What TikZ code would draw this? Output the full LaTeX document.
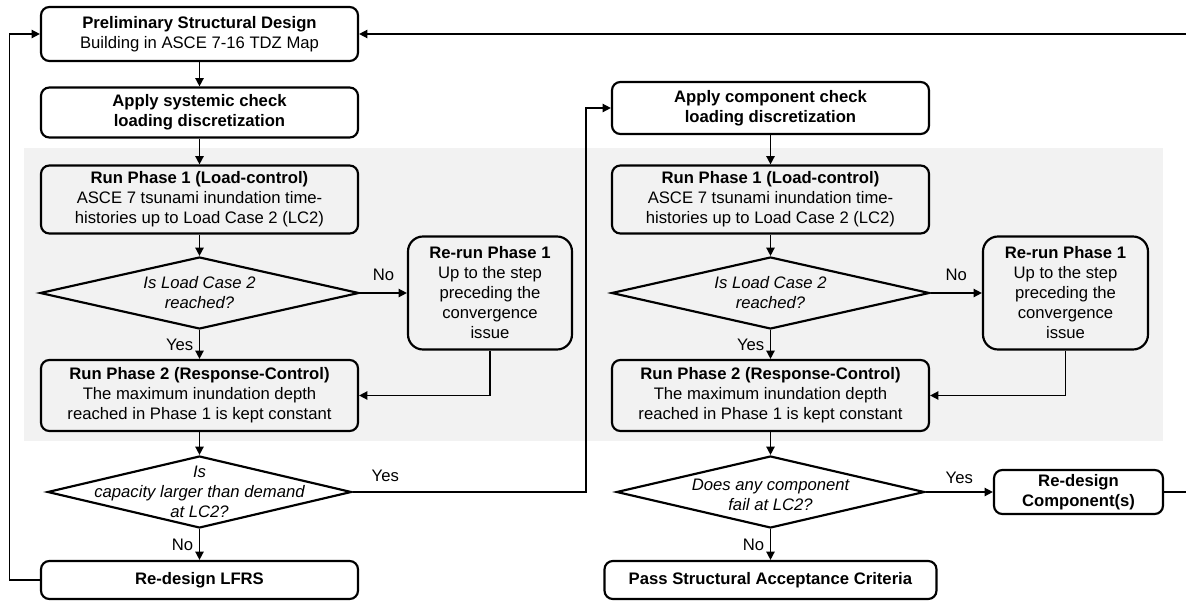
\documentclass[tikz,border=0pt]{standalone}
\usepackage{fontspec}
\setmainfont{Liberation Sans}
\usetikzlibrary{positioning,shapes.geometric,arrows.meta}
\definecolor{phasegray}{HTML}{F2F2F2}

\begin{document}
\begin{tikzpicture}[x=0.6pt, y=-0.6pt, >={Triangle[length=5pt,width=5pt]}, on grid,
	every node/.style={font=\fontsize{10}{12}\selectfont},
	stepbox/.style={draw, line width=1.3pt, rounded corners=5pt, align=center, minimum width=190.2pt, inner sep=1pt},
	check/.style={draw, diamond, line width=1.3pt, minimum height=43.2pt, inner sep=0pt},
	question/.style={align=center, font=\fontsize{10}{12}\selectfont\itshape},
	flow/.style={->, line width=0.9pt}]
	\useasboundingbox (0,0) rectangle (1186,600);
	\fill[phasegray] (24,148) rectangle (1163,441);
	
	% systemic check
	\node[stepbox, minimum height=32.4pt] (pre) at (199.5,34) {\textbf{Preliminary Structural Design}\\Building in ASCE 7-16 TDZ Map};
	\node[stepbox, minimum height=30pt] (sys) [below=47.1pt of pre] {\textbf{Apply systemic check}\\\textbf{loading discretization}};
	\node[stepbox, minimum height=40.8pt] (ph1) [below=52.2pt of sys] {\textbf{Run Phase 1 (Load-control)}\\ASCE 7 tsunami inundation time-\\histories up to Load Case 2 (LC2)};
	\node[check, minimum width=191.4pt, label={[question]center:{Is Load Case 2\\reached?}}] (d1) [below=56.1pt of ph1] {};
	\node[stepbox, rounded corners=9pt, minimum width=98.4pt, minimum height=67.8pt] (rer) [right=174.3pt of d1] {\textbf{Re-run Phase 1}\\Up to the step\\preceding the\\convergence\\issue};
	\node[stepbox, minimum height=42.6pt] (ph2) [below=61.5pt of d1] {\textbf{Run Phase 2 (Response-Control)}\\The maximum inundation depth\\reached in Phase 1 is kept constant};
	\node[check, minimum width=182.4pt, label={[question]center:{Is\\capacity larger than demand\\at LC2?}}] (d2) [below=57.9pt of ph2] {};
	\node[stepbox, minimum height=22.8pt] (lfrs) [below=52.8pt of d2] {\textbf{Re-design LFRS}};
	
	% component check
	\node[stepbox, minimum height=31.2pt] (com) at (770.5,108) {\textbf{Apply component check}\\\textbf{loading discretization}};
	\node[stepbox, minimum height=40.8pt] (ph1c) [below=54.9pt of com] {\textbf{Run Phase 1 (Load-control)}\\ASCE 7 tsunami inundation time-\\histories up to Load Case 2 (LC2)};
	\node[check, minimum width=190.8pt, label={[question]center:{Is Load Case 2\\reached?}}] (d1c) [below=56.1pt of ph1c] {};
	\node[stepbox, rounded corners=9pt, minimum width=99pt, minimum height=67.8pt] (rerc) [right=177pt of d1c] {\textbf{Re-run Phase 1}\\Up to the step\\preceding the\\convergence\\issue};
	\node[stepbox, minimum height=42.6pt] (ph2c) [below=61.5pt of d1c] {\textbf{Run Phase 2 (Response-Control)}\\The maximum inundation depth\\reached in Phase 1 is kept constant};
	\node[check, minimum width=184.8pt, label={[question, yshift=-1.8pt]center:{Does any component\\fail at LC2?}}] (d3) [below=57.9pt of ph2c] {};
	\node[stepbox, minimum width=199.2pt, minimum height=22.8pt] (pass) [below=52.8pt of d3] {\textbf{Pass Structural Acceptance Criteria}};
	\node[stepbox, minimum width=101.4pt, minimum height=26.4pt] (rec) [right=184.8pt of d3] {\textbf{Re-design}\\\textbf{Component(s)}};
	
	\path[flow]	(pre) edge (sys)
				(sys) edge (ph1)
				(ph1) edge (d1)
				(d1) edge node[above, yshift=3.5pt] {No} (rer)
				(d1) edge node[left] {Yes} (ph2)
				(ph2) edge (d2)
				(d2) edge node[left] {No} (lfrs)
				
				(com) edge (ph1c)
				(ph1c) edge (d1c)
				(d1c) edge node[above, yshift=3.5pt] {No} (rerc)
				(d1c) edge node[left] {Yes} (ph2c)
				(ph2c) edge (d3)
				(d3) edge node[left] {No} (pass)
				(d3) edge node[above, yshift=1pt] {Yes} (rec);
	
	\draw[flow] (rer.south) |- (ph2.east);
	\draw[flow] (rerc.south) |- (ph2c.east);
	\draw[flow] (d2.east) -| node[above, pos=0.07, yshift=2.5pt] {Yes} ([xshift=-15pt]com.west) -- (com.west);
	\draw[flow] (lfrs.west) -| ([xshift=-18.2pt]pre.west) -- (pre.west);
	\draw[flow] (rec.east) -- ++(16pt,0) |- (pre.east);
\end{tikzpicture}
\end{document}
